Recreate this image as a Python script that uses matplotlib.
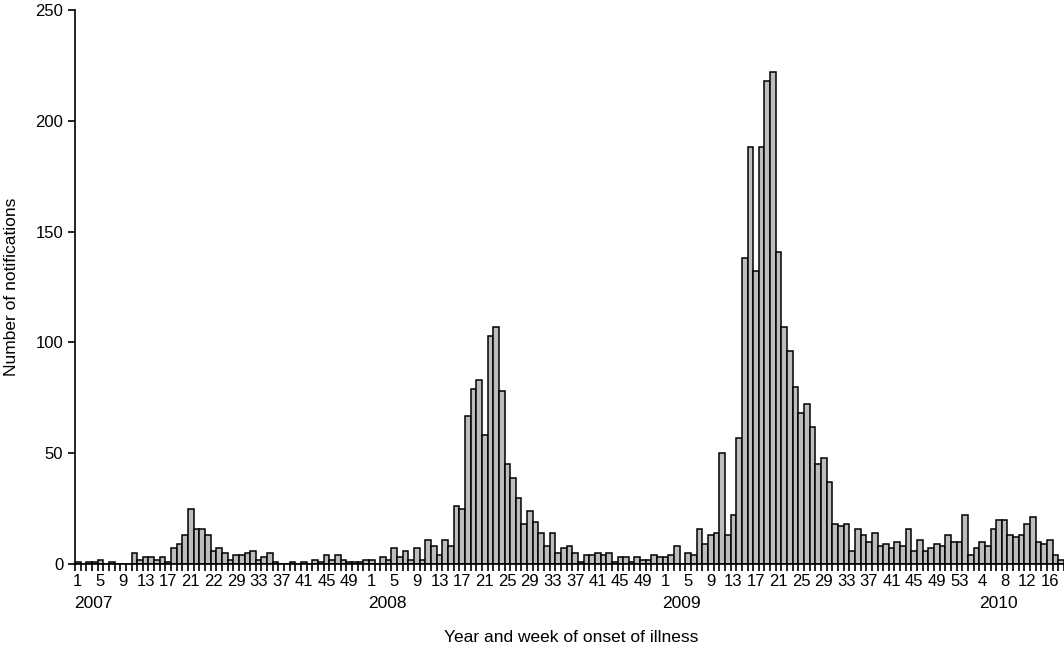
import numpy as np
import matplotlib.pyplot as plt
from matplotlib.transforms import blended_transform_factory

plt.rcParams['font.family'] = ['Liberation Sans', 'DejaVu Sans']

# weekly notifications
counts_2007 = [1, 0, 1, 1, 2, 0, 1, 0, 0, 0, 5, 2, 3, 3, 2, 3, 1, 7, 9, 13,
               25, 16, 16, 13, 6, 7, 5, 2, 4, 4, 5, 6, 2, 3, 5, 1, 0, 0, 1, 0,
               1, 0, 2, 1, 4, 2, 4, 2, 1, 1, 1, 2]
counts_2008 = [2, 0, 3, 2, 7, 3, 6, 2, 7, 2, 11, 8, 4, 11, 8, 26, 25, 67, 79, 83,
               58, 103, 107, 78, 45, 39, 30, 18, 24, 19, 14, 8, 14, 5, 7, 8, 5, 1, 4, 4,
               5, 4, 5, 1, 3, 3, 1, 3, 2, 2, 4, 3]
counts_2009 = [3, 4, 8, 0, 5, 4, 16, 9, 13, 14, 50, 13, 22, 57, 138, 188, 132, 188, 218, 222,
               141, 107, 96, 80, 68, 72, 62, 45, 48, 37, 18, 17, 18, 6, 16, 13, 10, 14, 8, 9,
               7, 10, 8, 16, 6, 11, 6, 7, 9, 8, 13, 10, 10]
counts_2010 = [22, 4, 7, 10, 8, 16, 20, 20, 13, 12, 13, 18, 21, 10, 9, 11, 4, 2]

years = [2007, 2008, 2009, 2010]
year_counts = [counts_2007, counts_2008, counts_2009, counts_2010]

# week labels shown under the axis (the 2007 "22" is as printed in the original)
label_weeks = {2007: [1, 5, 9, 13, 17, 21, 25, 29, 33, 37, 41, 45, 49],
               2008: [1, 5, 9, 13, 17, 21, 25, 29, 33, 37, 41, 45, 49],
               2009: [1, 5, 9, 13, 17, 21, 25, 29, 33, 37, 41, 45, 49, 53],
               2010: [4, 8, 12, 16]}
label_text = {2007: ['1', '5', '9', '13', '17', '21', '22', '29', '33', '37', '41', '45', '49'],
              2008: [str(w) for w in label_weeks[2008]],
              2009: [str(w) for w in label_weeks[2009]],
              2010: [str(w) for w in label_weeks[2010]]}
year_label_week = {2007: 1, 2008: 1, 2009: 1, 2010: 4}

counts = np.concatenate([np.array(c) for c in year_counts])
x = np.arange(len(counts))

# index of week 1 of each year
starts = {}
pos = 0
for y, c in zip(years, year_counts):
    starts[y] = pos
    pos += len(c)

fig = plt.figure(figsize=(10.64, 6.46), dpi=100)
ax = fig.add_axes([75 / 1064, 82 / 646, 989 / 1064, 554 / 646])

ax.bar(x, counts, width=1.0, color='#bdbdbd', edgecolor='black', linewidth=1.1)

ax.set_xlim(-0.5, len(counts) - 0.5)
ax.set_ylim(0, 250)
ax.set_yticks([0, 50, 100, 150, 200, 250])

tick_pos = []
tick_lab = []
for y in years:
    for w, t in zip(label_weeks[y], label_text[y]):
        tick_pos.append(starts[y] + w - 1)
        tick_lab.append(t)
ax.set_xticks(tick_pos)
ax.set_xticklabels(tick_lab)
ax.set_xticks(np.arange(len(counts) + 1) - 0.5, minor=True)
ax.tick_params(axis='x', which='major', length=0, pad=7, labelsize=12)
ax.tick_params(axis='x', which='minor', length=5, width=1.2, direction='out')
ax.tick_params(axis='y', length=5, width=1.2, labelsize=12)

for side in ['top', 'right']:
    ax.spines[side].set_visible(False)
ax.spines['left'].set_linewidth(1.2)
ax.spines['bottom'].set_linewidth(1.2)

trans = blended_transform_factory(ax.transData, fig.transFigure)
for y in years:
    xp = starts[y] + year_label_week[y] - 1 - 0.6
    ax.text(xp, (646 - 603) / 646, str(y), transform=trans, ha='left', va='center', fontsize=12.5)

fig.text(12 / 1064, (646 - 287) / 646, 'Number of notifications',
         rotation=90, ha='center', va='center', fontsize=12.5)
fig.text(571 / 1064, (646 - 637) / 646, 'Year and week of onset of illness',
         ha='center', va='center', fontsize=12.5)

fig.savefig('out.png', dpi=100)
